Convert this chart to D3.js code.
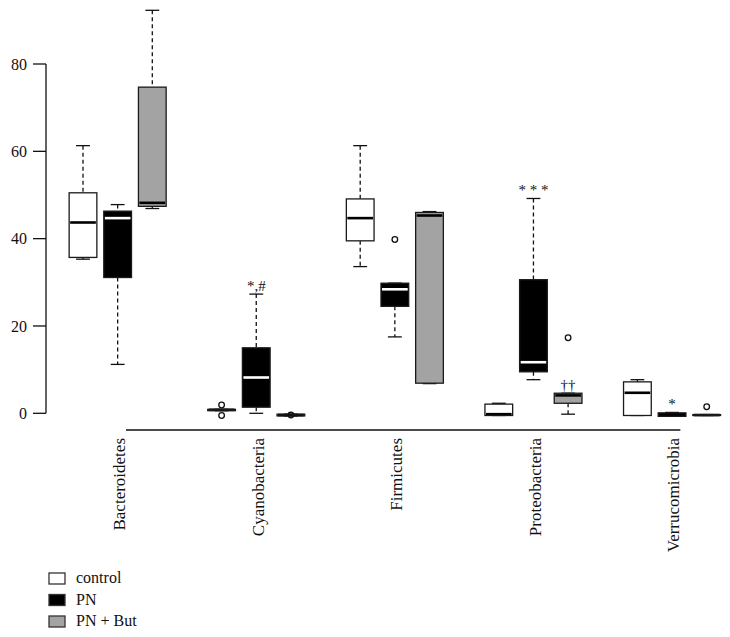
<!DOCTYPE html>
<html><head><meta charset="utf-8">
<script src="https://cdn.jsdelivr.net/npm/d3@7"></script>
<style>body{margin:0;background:#fff}svg{display:block}text{font-family:"Liberation Serif","DejaVu Serif",serif;fill:#111}</style>
</head><body><svg id="c" width="730" height="637"></svg>
<script>
const categories = ["Bacteroidetes","Cyanobacteria","Firmicutes","Proteobacteria","Verrucomicrobia"];
const groups = ["control","PN","PN + But"];
const yTicks = [0,20,40,60,80];
// [lower whisker, Q1, median, Q3, upper whisker]
const controlStats = [[35.3,35.7,43.7,50.5,61.3],[0.6,0.6,0.8,0.9,0.9],[33.6,39.5,44.7,49.1,61.3],[-0.5,-0.5,-0.2,2.1,2.3],[-0.5,-0.5,4.7,7.2,7.7]];
const pnStats = [[11.2,31.1,44.7,46.3,47.8],[0,1.4,8.2,15.0,27.3],[17.5,24.5,28.4,29.8,29.8],[7.7,9.5,11.7,30.6,49.2],[-0.7,-0.7,-0.3,0.1,0.2]];
const pnButStats = [[46.9,47.4,48.2,74.7,92.3],[-0.6,-0.6,-0.4,-0.2,-0.2],[6.8,6.9,45.3,46.0,46.2],[-0.2,2.3,4.1,4.6,4.6],[-0.5,-0.5,-0.4,-0.3,-0.3]];
const controlOutliers = [[],[1.9,-0.5],[],[],[]];
const pnOutliers = [[],[],[39.8],[],[]];
const pnButOutliers = [[],[-0.4],[],[17.3],[1.5]];
const annotations = [{cat:1,grp:1,text:"*,#"},{cat:3,grp:1,text:"* * *"},{cat:3,grp:2,text:"††"},{cat:4,grp:1,text:"*"}];

const fills = ["#ffffff","#000000","#a3a3a3"];
const medianColors = ["#000","#fff","#000"];
const stats = [controlStats, pnStats, pnButStats];
const outs = [controlOutliers, pnOutliers, pnButOutliers];
const FF = "Liberation Serif, DejaVu Serif, serif";

const svg = d3.select("#c");
const y = d3.scaleLinear().domain([0,80]).range([413.3,64]);
const x = d3.scaleLinear().domain([1,19]).range([83,706.7]);
const unit = x(2)-x(1);
const bw = unit*0.8, cw = unit*0.4;
const pos = (c,g)=>1+c*4+g;

// y axis
const yAxis = svg.append("g");
yAxis.append("line").attr("x1",46).attr("x2",46).attr("y1",y(0)).attr("y2",y(80)).attr("stroke","#111").attr("stroke-width",1.3);
yTicks.forEach(t=>{
  yAxis.append("line").attr("x1",33).attr("x2",46).attr("y1",y(t)).attr("y2",y(t)).attr("stroke","#111").attr("stroke-width",1.3);
  yAxis.append("text").attr("x",27).attr("y",y(t)).attr("dy","0.35em").attr("text-anchor","end").attr("font-family",FF).attr("fill","#111").attr("font-size",16).text(t);
});

// x axis line and labels
const tickPos = categories.map((c,i)=>x(2.24+i*4));
svg.append("line").attr("x1",tickPos[0]).attr("x2",tickPos[4]).attr("y1",430).attr("y2",430).attr("stroke","#111").attr("stroke-width",1.3);
categories.forEach((c,i)=>{
  svg.append("text").attr("transform",`translate(${tickPos[i]-1},438) rotate(-90)`).attr("text-anchor","end").attr("font-family",FF).attr("fill","#111").attr("font-size",17).text(c);
});

// boxes
stats.forEach((S,g)=>{
  S.forEach((s,c)=>{
    const cx = x(pos(c,g));
    const G = svg.append("g");
    const [lo,q1,md,q3,hi] = s;
    const h = Math.max(0.5,y(q1)-y(q3));
    G.append("line").attr("x1",cx).attr("x2",cx).attr("y1",y(hi)).attr("y2",y(q3)).attr("stroke","#111").attr("stroke-width",1.3).attr("stroke-dasharray","4,3");
    G.append("line").attr("x1",cx).attr("x2",cx).attr("y1",y(q1)).attr("y2",y(lo)).attr("stroke","#111").attr("stroke-width",1.3).attr("stroke-dasharray","4,3");
    G.append("line").attr("x1",cx-cw/2).attr("x2",cx+cw/2).attr("y1",y(hi)).attr("y2",y(hi)).attr("stroke","#111").attr("stroke-width",1.3);
    G.append("line").attr("x1",cx-cw/2).attr("x2",cx+cw/2).attr("y1",y(lo)).attr("y2",y(lo)).attr("stroke","#111").attr("stroke-width",1.3);
    G.append("rect").attr("x",cx-bw/2).attr("width",bw).attr("y",y(q3)).attr("height",h)
      .attr("fill",fills[g]).attr("stroke","none");
    const mc = (g===1 && h<6) ? "#000" : medianColors[g];
    G.append("line").attr("x1",cx-bw/2+1).attr("x2",cx+bw/2-1).attr("y1",y(md)).attr("y2",y(md)).attr("stroke",mc).attr("stroke-width",2.6);
    G.append("rect").attr("x",cx-bw/2).attr("width",bw).attr("y",y(q3)).attr("height",h)
      .attr("fill","none").attr("stroke","#1a1a1a").attr("stroke-width",1.3);
    outs[g][c].forEach(v=>{
      G.append("circle").attr("cx",cx).attr("cy",y(v)).attr("r",2.8).attr("fill","none").attr("stroke","#111").attr("stroke-width",1.3);
    });
  });
});

// annotations
annotations.forEach(a=>{
  const s = stats[a.grp][a.cat];
  svg.append("text").attr("x",x(pos(a.cat,a.grp))).attr("y",y(s[4])-3).attr("text-anchor","middle").attr("font-family",FF).attr("fill","#222").attr("font-size",15).text(a.text);
});

// legend
groups.forEach((g,i)=>{
  const ly = 573 + i*21.5;
  svg.append("rect").attr("x",49).attr("y",ly).attr("width",16).attr("height",11).attr("fill",fills[i]).attr("stroke","#333").attr("stroke-width",1.3);
  svg.append("text").attr("x",76).attr("y",ly+10).attr("font-family",FF).attr("fill","#111").attr("font-size",16).text(g);
});
</script></body></html>
